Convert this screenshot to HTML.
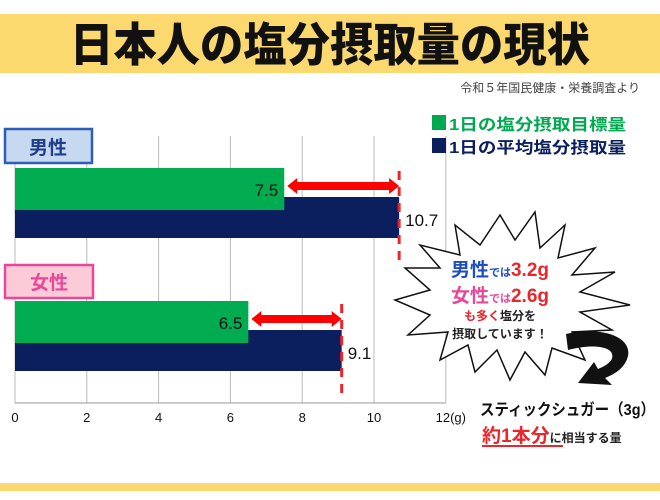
<!DOCTYPE html>
<html><head><meta charset="utf-8"><style>
body{margin:0;width:660px;height:495px;background:#fff;overflow:hidden;font-family:"Liberation Sans","Noto Sans CJK JP",sans-serif;}
</style></head><body>
<svg width="660" height="495" viewBox="0 0 660 495" xmlns="http://www.w3.org/2000/svg" font-family="Liberation Sans, Noto Sans CJK JP, sans-serif">
<rect x="0" y="14" width="660" height="59" fill="#fcd96f"/>
<text x="330" y="61" text-anchor="middle" font-size="46" font-weight="900" fill="#111" textLength="520" lengthAdjust="spacingAndGlyphs">日本人の塩分摂取量の現状</text>
<text x="640" y="92" text-anchor="end" font-size="12" fill="#444">令和５年国民健康・栄養調査より</text>
<rect x="0" y="483" width="660" height="8" fill="#fcd96f"/>
<g id="chart"></g>
<g>
<rect x="432" y="115" width="14" height="15" fill="#00a850"/>
<text x="449" y="130" font-size="16" font-weight="bold" fill="#00a850" textLength="177" lengthAdjust="spacingAndGlyphs">1日の塩分摂取目標量</text>
<rect x="432" y="138" width="14" height="15" fill="#0b1f5e"/>
<text x="449" y="153" font-size="16" font-weight="bold" fill="#0b1f5e" textLength="177" lengthAdjust="spacingAndGlyphs">1日の平均塩分摂取量</text>
</g>
<rect x="5" y="129" width="87" height="34" fill="#c6d9f1" stroke="#2e5cb8" stroke-width="2.5"/>
<text x="48" y="154" text-anchor="middle" font-size="19" font-weight="bold" fill="#1f3d8a">男性</text>
<rect x="5" y="265" width="88" height="33" fill="#fbcbd8" stroke="#e8489a" stroke-width="2.5"/>
<text x="49" y="289" text-anchor="middle" font-size="19" font-weight="bold" fill="#e8489a">女性</text>
<polygon fill="#fff" stroke="#111" stroke-width="1.5" points="500,215 515,240 535,212 540,248 565,225 558,258 595,248 572,275 615,272 580,292 630,305 580,312 612,330 572,332 585,360 552,348 545,375 525,352 510,380 497,350 475,372 468,345 440,360 448,332 408,335 430,315 395,300 430,290 405,268 440,268 420,245 460,255 455,225 480,245"/>
<text x="500" y="276" text-anchor="middle" font-weight="bold"><tspan font-size="19" fill="#1f4fbf">男性</tspan><tspan font-size="11" fill="#1f4fbf">では</tspan><tspan font-size="19" fill="#e8262b">3.2g</tspan></text>
<text x="500" y="302" text-anchor="middle" font-weight="bold"><tspan font-size="19" fill="#e8489a">女性</tspan><tspan font-size="11" fill="#e8489a">では</tspan><tspan font-size="19" fill="#e8262b">2.6g</tspan></text>
<text x="500" y="320" text-anchor="middle" font-size="12" font-weight="bold"><tspan fill="#e8262b">も多く</tspan><tspan fill="#222">塩分を</tspan></text>
<text x="500" y="338" text-anchor="middle" font-size="12" font-weight="bold" fill="#222">摂取しています！</text>
<path d="M566,334 C600,326 632,336 628,356 C625,368 615,374 605,378 L612,385 L578,383 L594,362 L598,369 C608,365 614,360 612,354 C610,346 590,344 568,350 Z" fill="#111"/>
<text x="480" y="415" font-size="16" font-weight="bold" fill="#111" textLength="175" lengthAdjust="spacingAndGlyphs">スティックシュガー（3g）</text>
<text x="482" y="442" font-weight="bold"><tspan font-size="19" fill="#e8262b">約1本分</tspan><tspan font-size="12" fill="#222">に相当する量</tspan></text>
<line x1="482" y1="446" x2="563" y2="446" stroke="#e8262b" stroke-width="2"/>
</svg>
<script>
const categories=['男性','女性'];
const targetValues=[7.5,6.5];
const averageValues=[10.7,9.1];
const tickLabels=['0','2','4','6','8','10','12(g)'];
const tickValues=[0,2,4,6,8,10,12];
const NS='http://www.w3.org/2000/svg';
const chartG=document.getElementById('chart');
const x0=15,unit=35.9,axisY=403,plotTop=136;
const xs=v=>x0+v*unit;
const groupY=[168,301];
function mk(t,a){const e=document.createElementNS(NS,t);for(const k in a)e.setAttribute(k,a[k]);chartG.appendChild(e);return e;}
tickValues.forEach((v,i)=>{
 const l=mk('line',{x1:xs(v),x2:xs(v),y1:plotTop,y2:axisY,stroke:'#bbb','stroke-width':1});
 
 
 const t=mk('text',{x:xs(v)+(i==6?5:0),y:axisY+19,'text-anchor':'middle','font-size':13,fill:'#111'});
 t.textContent=tickLabels[i];
 
 
});
const ax=mk('line',{x1:x0,x2:xs(12),y1:axisY,y2:axisY,stroke:'#999','stroke-width':1});


categories.forEach((c,i)=>{
 const y=groupY[i];
 const nb=mk('rect',{x:x0,y:y+29,width:xs(averageValues[i])-x0,height:41,fill:'#0b1f5e'});
 
 
 const gb=mk('rect',{x:x0,y:y,width:xs(targetValues[i])-x0,height:42,fill:'#00ac4f'});
 
 
 const gl=mk('text',{x:xs(targetValues[i])-6,y:y+28,'text-anchor':'end','font-size':17,fill:'#111'});
 gl.textContent=targetValues[i].toFixed(1);
 
 
 const nl=mk('text',{x:xs(averageValues[i])+6,y:y+58,'font-size':17,fill:'#111'});
 nl.textContent=averageValues[i].toFixed(1);
 
 
 const ex=xs(averageValues[i]);
 const dl=mk('line',{x1:ex,x2:ex,y1:y+3,y2:y+95,stroke:'#e8262b','stroke-width':3,'stroke-dasharray':'9,7'});
 
 
 const a0=xs(targetValues[i])+3,ay=y+18;
 const ar=mk('polygon',{fill:'#f00',points:`${a0},${ay} ${a0+10},${ay-8} ${a0+10},${ay-4} ${ex-10},${ay-4} ${ex-10},${ay-8} ${ex},${ay} ${ex-10},${ay+8} ${ex-10},${ay+4} ${a0+10},${ay+4} ${a0+10},${ay+8}`});
 
 
});
</script>
</body></html>
